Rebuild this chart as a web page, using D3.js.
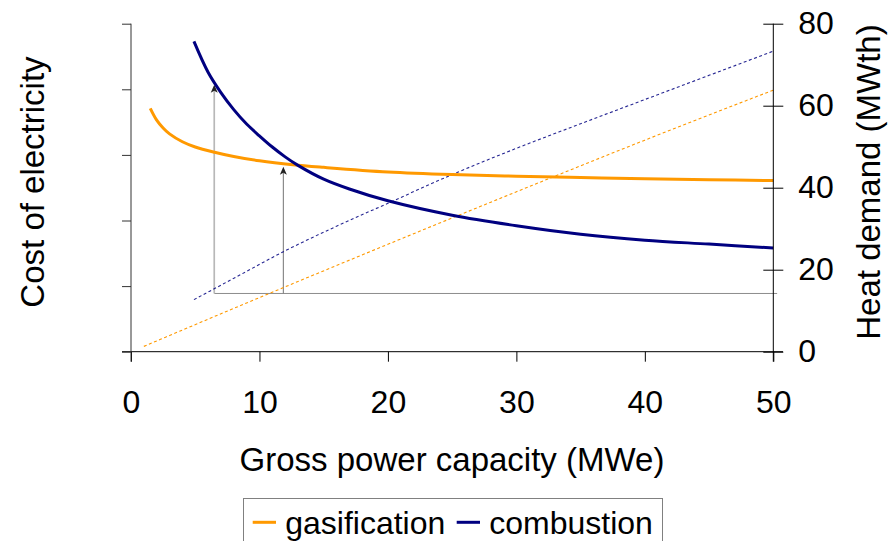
<!DOCTYPE html>
<html><head><meta charset="utf-8">
<script src="https://cdn.jsdelivr.net/npm/d3@7"></script>
<style>
html,body{margin:0;padding:0;background:#fff;}
svg text{font-family:"Liberation Sans",Arial,sans-serif;fill:#000;}
</style></head>
<body><svg id="c" width="896" height="541"></svg>
<script>
// ---- data ----
const xTicks = [0, 10, 20, 30, 40, 50];
const rightTicks = [0, 20, 40, 60, 80];
const leftTicks = [0, 1, 2, 3, 4, 5];
const seriesNames = ["gasification", "combustion"];

// cost of electricity (relative units, unlabeled left axis)
const gasX    = [1.5, 2, 2.5, 3, 4, 5, 6.5, 8, 10, 12.6, 15, 20, 25, 30, 35, 40, 45, 50];
const gasCost = [3.71, 3.53, 3.41, 3.32, 3.20, 3.12, 3.04, 2.975, 2.91, 2.85, 2.81, 2.74, 2.70, 2.675, 2.655, 2.635, 2.62, 2.61];
const combX    = [4.9, 6, 7, 8, 9, 10, 11, 12, 13, 15, 17, 20, 25, 30, 35, 40, 45, 50];
const combCost = [4.73, 4.26, 3.95, 3.69, 3.47, 3.29, 3.12, 2.97, 2.84, 2.63, 2.48, 2.30, 2.08, 1.92, 1.79, 1.70, 1.64, 1.58];

// heat demand (MWth, right axis)
const gasHeatX = [1, 10, 20, 30, 40, 50];
const gasHeat  = [1.3, 13.2, 26.2, 39.0, 51.6, 63.8];
const combHeatX = [4.9, 8, 12, 16, 20, 25, 30, 35, 40, 45, 50];
const combHeat  = [12.7, 17.9, 24.6, 30.6, 36.2, 43.2, 49.6, 55.6, 61.5, 67.4, 73.3];

// annotation: heat level and the capacities where it is reached
const baseHeat = 14.2;
const baseEndX = 50.3;
const arrowX = [6.48, 11.86];
const arrowTipCost = [4.07, 2.82];

// ---- drawing ----
const svg = d3.select("#c");
const FS = 32, FT = 33;
const colGas = "#ff9900", colComb = "#000080";

const x  = d3.scaleLinear().domain([0, 50]).range([131, 773.3]);
const yL = d3.scaleLinear().domain([0, 5]).range([351.7, 23.7]);
const yR = d3.scaleLinear().domain([0, 80]).range([351.7, 23.7]);

// annotation lines (behind curves)
svg.append("line").attr("x1", x(arrowX[0])).attr("x2", x(baseEndX))
  .attr("y1", yR(baseHeat)).attr("y2", yR(baseHeat))
  .attr("stroke", "#8c8c8c").attr("stroke-width", 1);
const arrowCols = ["#b8b8b8", "#808080"];
const arrowW = [1.7, 1.1];
arrowX.forEach((ax, i) => {
  const tipY = yL(arrowTipCost[i]);
  svg.append("line").attr("x1", x(ax)).attr("x2", x(ax))
    .attr("y1", yR(baseHeat)).attr("y2", tipY + 6)
    .attr("stroke", arrowCols[i]).attr("stroke-width", arrowW[i]);
  svg.append("path")
    .attr("d", `M${x(ax)},${tipY} L${x(ax)-3.5},${tipY+8} L${x(ax)},${tipY+6} L${x(ax)+3.5},${tipY+8}Z`)
    .attr("fill", "#222");
});

// dashed heat demand lines
const lineR = (xs, ys) => d3.line().x((d, i) => x(xs[i])).y(d => yR(d)).curve(d3.curveMonotoneX)(ys);
svg.append("path").attr("d", lineR(combHeatX, combHeat)).attr("fill", "none")
  .attr("stroke", colComb).attr("stroke-width", 1.1).attr("stroke-dasharray", "3,2.5").attr("opacity", 0.85);
svg.append("path").attr("d", lineR(gasHeatX, gasHeat)).attr("fill", "none")
  .attr("stroke", colGas).attr("stroke-width", 1.1).attr("stroke-dasharray", "3,2.5");

// cost curves
const lineL = (xs, ys) => d3.line().x((d, i) => x(xs[i])).y(d => yL(d)).curve(d3.curveCatmullRom)(ys);
svg.append("path").attr("d", lineL(gasX, gasCost)).attr("fill", "none")
  .attr("stroke", colGas).attr("stroke-width", 3);
svg.append("path").attr("d", lineL(combX, combCost)).attr("fill", "none")
  .attr("stroke", colComb).attr("stroke-width", 3);

// axes
const axCol = "#000";
// x axis
const gx = svg.append("g").attr("transform", `translate(0,${yL(0)})`)
  .call(d3.axisBottom(x).tickValues(xTicks).tickSize(10).tickPadding(29).tickFormat(d3.format("d")));
gx.select(".domain").remove();
gx.selectAll("line").attr("stroke", axCol);
gx.selectAll("text").attr("font-size", FS).attr("font-family", null);
svg.append("line").attr("x1", 122).attr("x2", 783).attr("y1", yL(0)).attr("y2", yL(0)).attr("stroke", axCol);

// left axis
const gl = svg.append("g").attr("transform", `translate(${x(0)},0)`)
  .call(d3.axisLeft(yL).tickValues(leftTicks).tickSize(9).tickFormat(""));
gl.select(".domain").remove();
gl.selectAll("line").attr("stroke", "#333");
svg.append("line").attr("x1", x(0)).attr("x2", x(0)).attr("y1", yL(5)).attr("y2", yL(0) + 10).attr("stroke", "#333");

// right axis
const gr = svg.append("g").attr("transform", `translate(${x(50)},0)`)
  .call(d3.axisRight(yR).tickValues(rightTicks).tickSize(10).tickPadding(15));
gr.select(".domain").remove();
gr.selectAll("line").attr("x1", -10).attr("x2", 10).attr("stroke", axCol);
gr.selectAll("text").attr("font-size", FS).attr("font-family", null);
svg.append("line").attr("x1", x(50)).attr("x2", x(50)).attr("y1", yR(80)).attr("y2", yR(0) + 10).attr("stroke", axCol);

// titles
svg.append("text").attr("x", 452).attr("y", 471).attr("text-anchor", "middle")
  .attr("font-size", FT).text("Gross power capacity (MWe)");
svg.append("text").attr("transform", "translate(44,182) rotate(-90)").attr("text-anchor", "middle")
  .attr("font-size", FT).text("Cost of electricity");
svg.append("text").attr("transform", "translate(880,182) rotate(-90)").attr("text-anchor", "middle")
  .attr("font-size", FT).text("Heat demand (MWth)");

// legend
svg.append("rect").attr("x", 243.5).attr("y", 498.5).attr("width", 419).attr("height", 60)
  .attr("fill", "none").attr("stroke", "#808080").attr("stroke-width", 1);
const legX = [252.7, 456.7];
const legCols = [colGas, colComb];
seriesNames.forEach((n, i) => {
  svg.append("line").attr("x1", legX[i]).attr("x2", legX[i] + 23.3).attr("y1", 522.3).attr("y2", 522.3)
    .attr("stroke", legCols[i]).attr("stroke-width", 3);
  svg.append("text").attr("x", legX[i] + 32.5).attr("y", 534).attr("font-size", FS).text(n);
});
</script></body></html>
